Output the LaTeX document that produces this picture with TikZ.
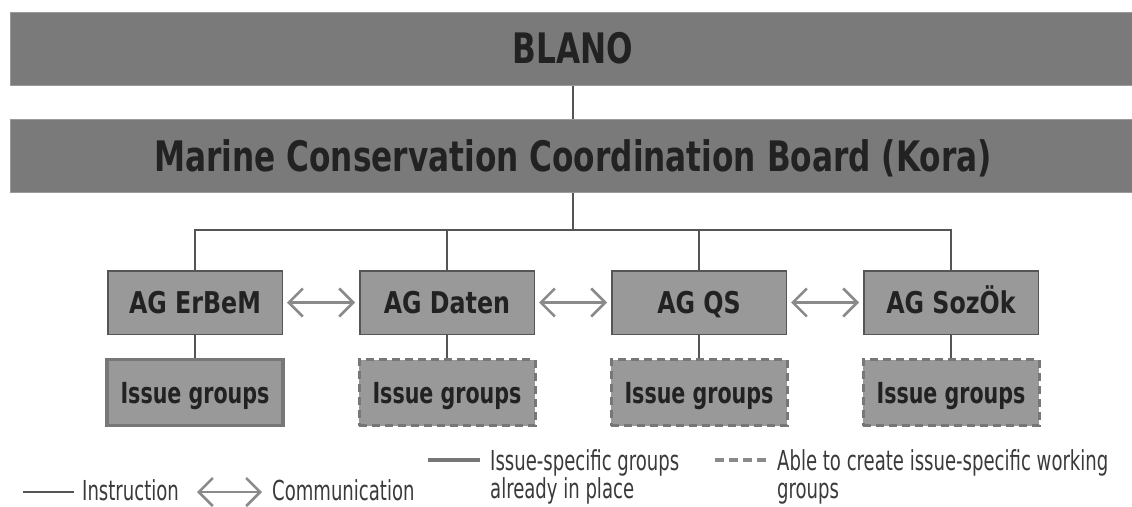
\documentclass[tikz,border=0pt]{standalone}
\usepackage{fontspec}
\usetikzlibrary{arrows.meta}
\newfontfamily\hdfont[FakeStretch=0.825]{DejaVu Sans Condensed Bold}
\newfontfamily\agfont[FakeStretch=0.88]{DejaVu Sans Condensed Bold}
\newfontfamily\igfont[FakeStretch=0.79]{DejaVu Sans Condensed Bold}
\newfontfamily\lgfont[FakeStretch=0.73]{DejaVu Sans Condensed}
\definecolor{barfill}{HTML}{7A7A7A}
\definecolor{barline}{HTML}{9A9A9A}
\definecolor{boxfill}{HTML}{999999}
\definecolor{boxline}{HTML}{555555}
\definecolor{igline}{HTML}{777777}
\definecolor{txt}{HTML}{222222}
\definecolor{lgtxt}{HTML}{3A3A3A}
\definecolor{connc}{HTML}{555555}
\definecolor{arrc}{HTML}{8A8A8A}
\tikzset{
  bar/.style={fill=barfill, draw=barline, line width=1pt, minimum width=1126, minimum height=73,
    inner sep=0pt, text=txt, font=\hdfont\fontsize{42}{48}\selectfont, text height=30.6pt, text depth=0pt},
  agbox/.style={fill=boxfill, draw=boxline, line width=1.5pt, minimum width=174.5, minimum height=63.5,
    inner sep=0pt, text=txt, font=\agfont\fontsize{30}{36}\selectfont, text height=21.9pt, text depth=0pt},
  igbox/.style={fill=boxfill, draw=igline, line width=3.5pt, minimum width=176, minimum height=66,
    inner sep=0pt, text=txt, font=\igfont\fontsize{29}{34}\selectfont, text height=21.1pt, text depth=0pt},
  igdash/.style={igbox, line width=3pt, dash pattern=on 8pt off 5pt},
  conn/.style={draw=connc, line width=2pt},
  comm/.style={draw=arrc, line width=2.5pt, {Straight Barb[length=14pt,width=28pt]}-{Straight Barb[length=14pt,width=28pt]}},
  lg/.style={inner sep=0pt, anchor=base west, text=lgtxt, font=\lgfont\fontsize{27.5}{30}\selectfont}
}
\begin{document}
\begin{tikzpicture}[x=1pt,y=-1pt]
\useasboundingbox (0,0) rectangle (1132,506);
\fill[white] (0,0) rectangle (1132,506);
% bars
\node[bar] (blano) at (573,48.5) {BLANO};
\node[bar] (kora) at (573,156) {Marine Conservation Coordination Board (Kora)};
\draw[conn] (blano.south) -- (kora.north);
% AG boxes
\node[agbox] (ag1) at (195,302.5) {AG ErBeM};
\node[agbox] (ag2) at (447,302.5) {AG Daten};
\node[agbox] (ag3) at (699,302.5) {AG QS};
\node[agbox] (ag4) at (951,302.5) {AG SozÖk};
\coordinate (hub) at (573,230);
\draw[conn] (kora.south) -- (hub);
\draw[conn] (hub) -| (ag1.north);
\draw[conn] (hub) -| (ag2.north);
\draw[conn] (hub) -| (ag3.north);
\draw[conn] (hub) -| (ag4.north);
% issue groups
\node[igbox] (ig1) at (195,392.5) {Issue groups};
\node[igdash] (ig2) at (447,392.5) {Issue groups};
\node[igdash] (ig3) at (699,392.5) {Issue groups};
\node[igdash] (ig4) at (951,392.5) {Issue groups};
\foreach \i in {1,2,3,4} {\draw[conn] (ag\i.south) -- (ig\i.north);}
% communication arrows
\draw[comm, shorten <=4pt, shorten >=4pt] (ag1.east) -- (ag2.west);
\draw[comm, shorten <=4pt, shorten >=4pt] (ag2.east) -- (ag3.west);
\draw[comm, shorten <=4pt, shorten >=4pt] (ag3.east) -- (ag4.west);
% legend
\coordinate (li1) at (23,492);
\coordinate (li2) at (74,492);
\draw[conn] (li1) -- (li2);
\node[lg] (tinstr) at (82,500) {Instruction};
\coordinate (la1) at (197,492);
\coordinate (la2) at (262,492);
\draw[comm] (la1) -- (la2);
\node[lg] (tcomm) at (272,500) {Communication};
\coordinate (lt1) at (428,460);
\coordinate (lt2) at (480,460);
\draw[draw=igline, line width=4pt] (lt1) -- (lt2);
\node[lg] (tisp1) at (490,470) {Issue-specific groups};
\node[lg] (tisp2) at (490,498) {already in place};
\coordinate (ld1) at (715,460);
\coordinate (ld2) at (768,460);
\draw[draw=arrc, line width=3.5pt, dash pattern=on 9pt off 5pt] (ld1) -- (ld2);
\node[lg] (table1) at (777,470) {Able to create issue-specific working};
\node[lg] (table2) at (777,498) {groups};
\end{tikzpicture}
\end{document}
